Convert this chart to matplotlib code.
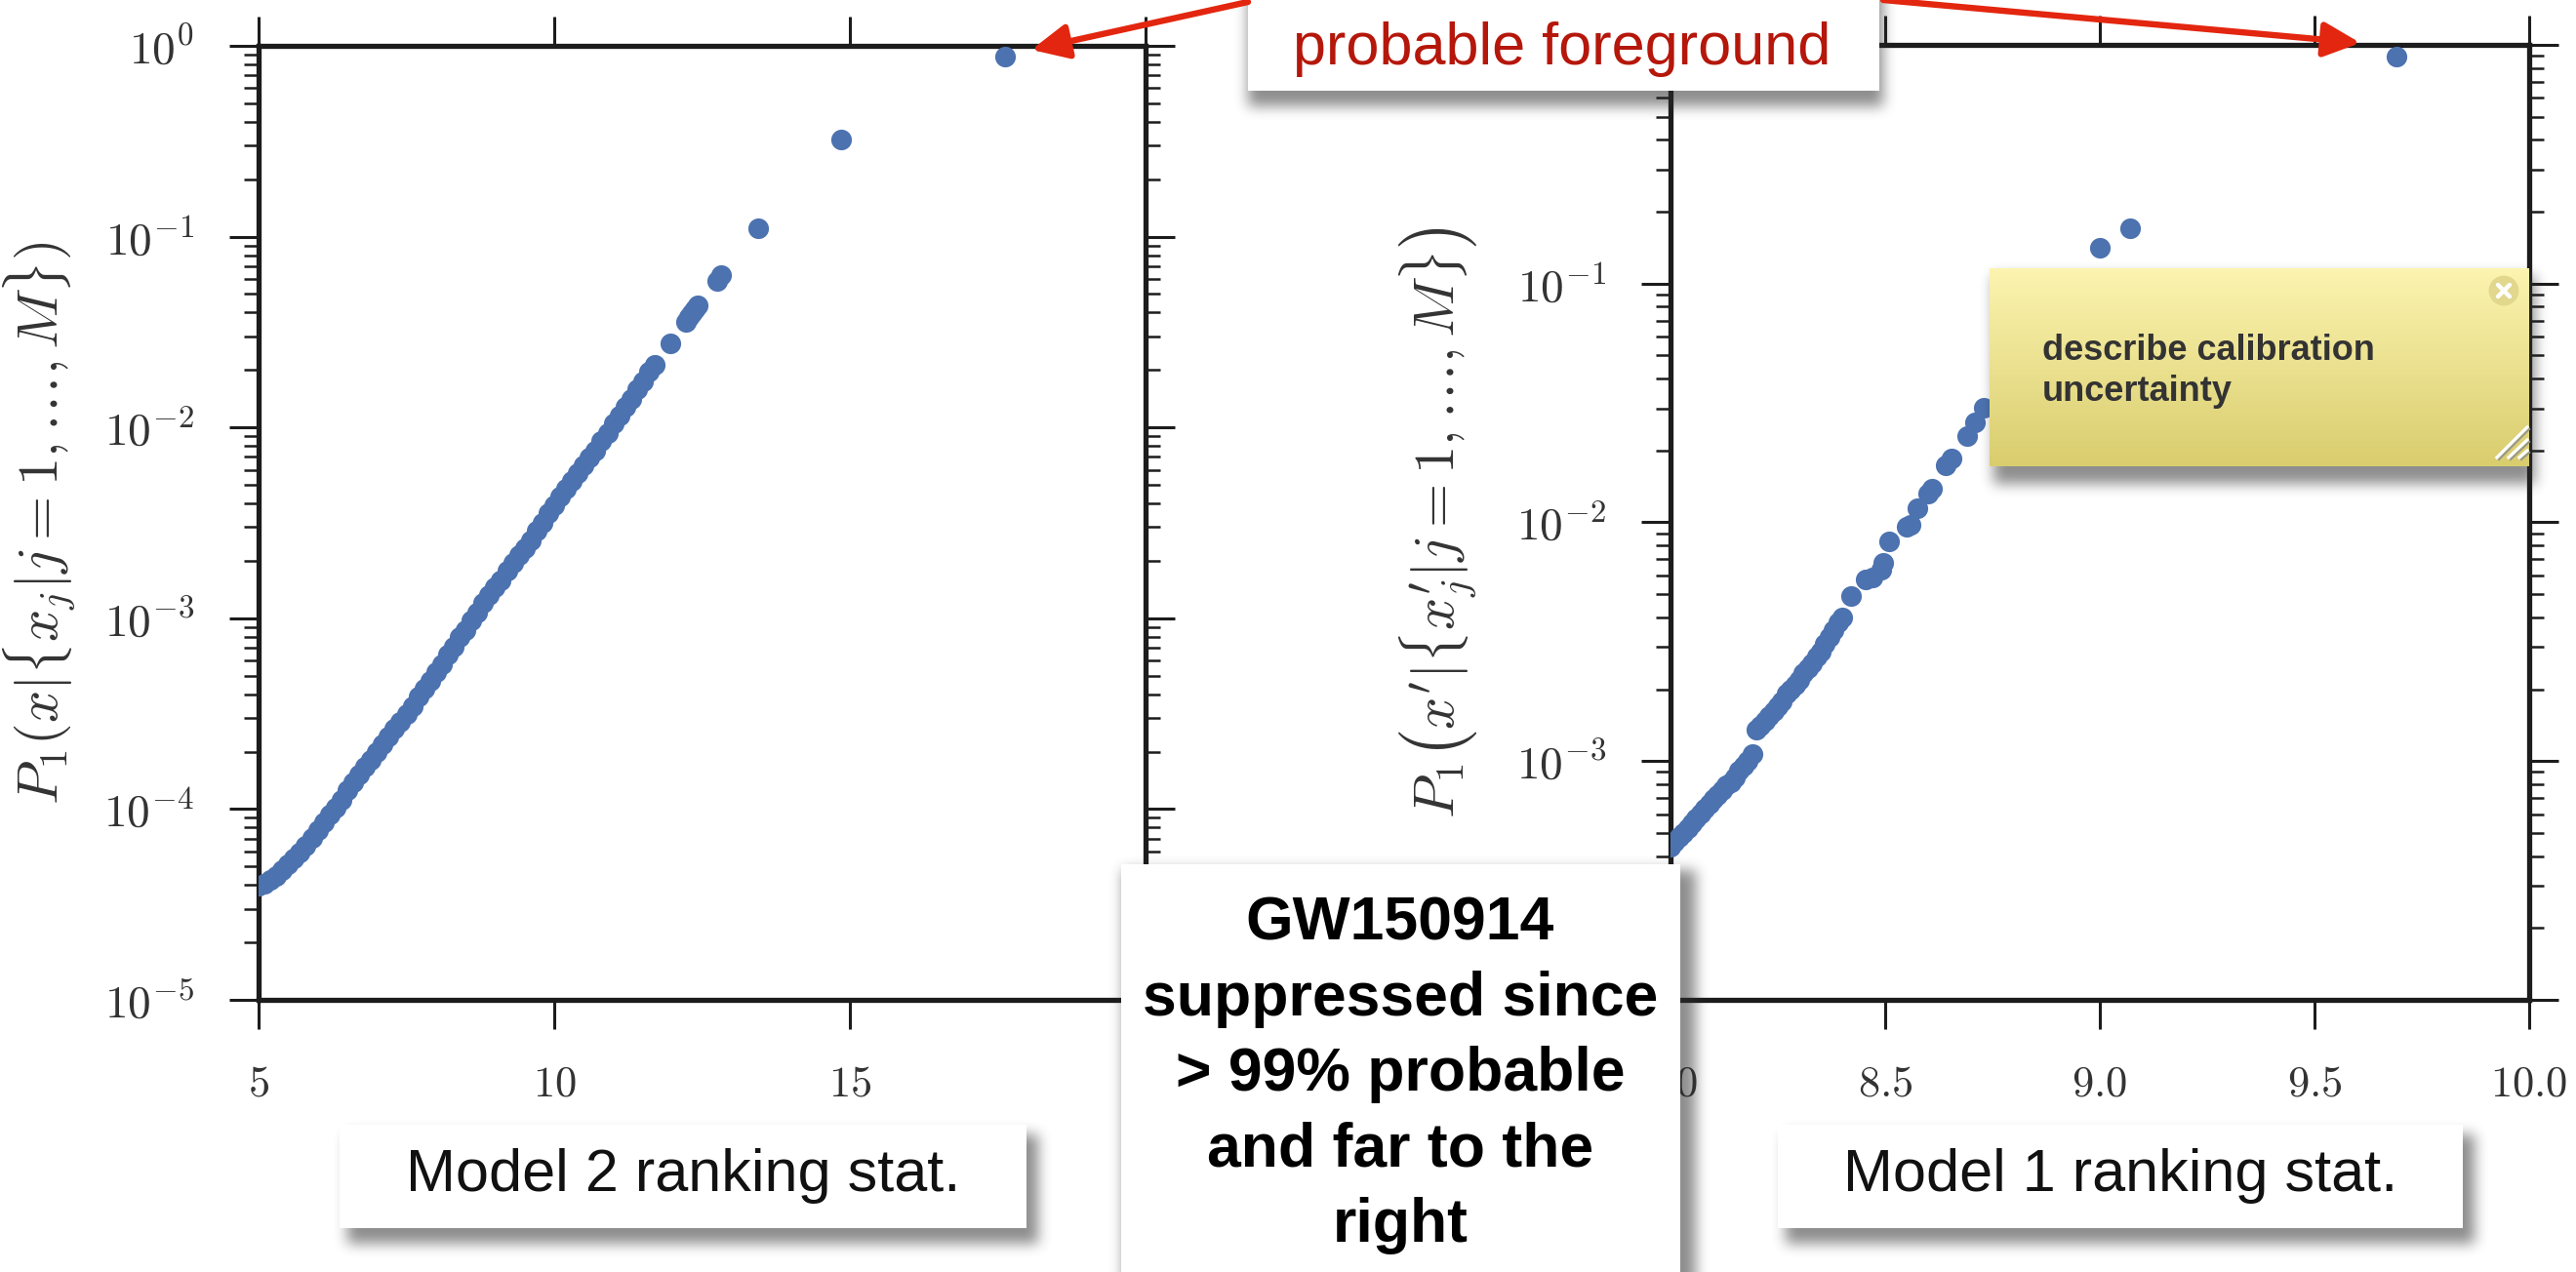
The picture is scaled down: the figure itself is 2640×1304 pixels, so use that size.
import numpy as np
import matplotlib
matplotlib.use("Agg")
import matplotlib.pyplot as plt
from matplotlib.ticker import FixedLocator, FixedFormatter, LogLocator, NullFormatter
from matplotlib.patches import FancyArrowPatch, Circle

# ---------------- data ----------------
# Model 2 ranking statistic (left panel)
m2_x = [5.0, 5.1, 5.2, 5.3, 5.4, 5.5, 5.6, 5.7, 5.8, 5.9,
        6.0, 6.1, 6.2, 6.3, 6.4, 6.5, 6.6, 6.7, 6.8, 6.9,
        7.0, 7.1, 7.2, 7.3, 7.4, 7.5, 7.6, 7.7, 7.8, 7.9,
        8.0, 8.1, 8.2, 8.3, 8.4, 8.5, 8.6, 8.7, 8.8, 8.9,
        9.0, 9.1, 9.2, 9.3, 9.4, 9.5, 9.6, 9.7, 9.8, 9.9,
        10.0, 10.1, 10.2, 10.3, 10.4, 10.5, 10.6, 10.7, 10.8, 10.9,
        11.0, 11.1, 11.2, 11.3, 11.4, 11.5, 11.6, 11.7,
        11.97, 12.23, 12.28, 12.33, 12.38, 12.42, 12.75, 12.82,
        13.45, 14.85, 17.62]
m2_p = [3.98e-5, 4.07e-5, 4.27e-5, 4.47e-5, 4.79e-5, 5.13e-5, 5.50e-5, 5.89e-5, 6.46e-5, 7.08e-5,
        7.76e-5, 8.51e-5, 9.33e-5, 1.02e-4, 1.12e-4, 1.26e-4, 1.38e-4, 1.51e-4, 1.66e-4, 1.82e-4,
        2.00e-4, 2.19e-4, 2.40e-4, 2.63e-4, 2.88e-4, 3.16e-4, 3.47e-4, 3.89e-4, 4.27e-4, 4.68e-4,
        5.25e-4, 5.75e-4, 6.46e-4, 7.08e-4, 7.94e-4, 8.71e-4, 9.77e-4, 1.07e-3, 1.20e-3, 1.32e-3,
        1.45e-3, 1.58e-3, 1.78e-3, 1.95e-3, 2.14e-3, 2.34e-3, 2.57e-3, 2.88e-3, 3.16e-3, 3.55e-3,
        3.89e-3, 4.37e-3, 4.79e-3, 5.25e-3, 5.75e-3, 6.31e-3, 6.92e-3, 7.59e-3, 8.51e-3, 9.33e-3,
        1.05e-2, 1.15e-2, 1.29e-2, 1.41e-2, 1.58e-2, 1.74e-2, 1.95e-2, 2.14e-2,
        2.77e-2, 3.59e-2, 3.80e-2, 3.98e-2, 4.17e-2, 4.37e-2, 5.89e-2, 6.31e-2,
        0.111, 0.324, 0.879]

# Model 1 ranking statistic (right panel)
m1_x = [8.00, 8.01, 8.02, 8.03, 8.04, 8.05, 8.06, 8.07, 8.08, 8.09,
        8.10, 8.11, 8.12, 8.13, 8.14, 8.15, 8.16, 8.17, 8.18, 8.19,
        8.20, 8.21, 8.22, 8.23, 8.24, 8.25, 8.26, 8.27, 8.28, 8.29,
        8.30, 8.31, 8.32, 8.33, 8.34, 8.35, 8.36, 8.37, 8.38, 8.39, 8.40,
        8.42, 8.455, 8.47, 8.49, 8.495, 8.51, 8.55, 8.56, 8.575, 8.60, 8.61,
        8.64, 8.655, 8.69, 8.71, 8.73, 9.00, 9.07, 9.69]
m1_p = [4.37e-4, 4.57e-4, 4.79e-4, 5.01e-4, 5.25e-4, 5.50e-4, 5.75e-4, 6.03e-4, 6.31e-4, 6.61e-4,
        6.92e-4, 7.24e-4, 7.59e-4, 7.94e-4, 8.13e-4, 8.51e-4, 9.12e-4, 9.55e-4, 1.00e-3, 1.07e-3,
        1.35e-3, 1.41e-3, 1.48e-3, 1.55e-3, 1.62e-3, 1.70e-3, 1.78e-3, 1.91e-3, 2.00e-3, 2.09e-3,
        2.19e-3, 2.34e-3, 2.45e-3, 2.57e-3, 2.75e-3, 2.88e-3, 3.09e-3, 3.31e-3, 3.55e-3, 3.80e-3, 3.98e-3,
        4.90e-3, 5.75e-3, 5.89e-3, 6.31e-3, 6.76e-3, 8.32e-3, 9.55e-3, 9.77e-3, 1.15e-2, 1.32e-2, 1.38e-2,
        1.74e-2, 1.86e-2, 2.29e-2, 2.63e-2, 3.02e-2, 0.141, 0.170, 0.891]

# tick labels hidden behind the callout boxes in the reference are left blank
left_xticks = [5, 10, 15, 20]
left_xticklabels = ["$5$", "$10$", "$15$", ""]
right_xticks = [8.0, 8.5, 9.0, 9.5, 10.0]
right_xticklabels = ["$8.0$", "$8.5$", "$9.0$", "$9.5$", "$10.0$"]
left_yticks = [1e-5, 1e-4, 1e-3, 1e-2, 1e-1, 1e0]
left_yticklabels = ["$10^{-5}$", "$10^{-4}$", "$10^{-3}$", "$10^{-2}$", "$10^{-1}$", "$10^{0}$"]
right_yticks = [1e-4, 1e-3, 1e-2, 1e-1, 1e0]
right_yticklabels = ["", "$10^{-3}$", "$10^{-2}$", "$10^{-1}$", ""]

left_ylabel = r"$P_1(x|\{x_j|j=1,\ldots,M\})$"
right_ylabel = r"$P_1\left(x^{\prime}|\{x^{\prime}_j|j=1,\ldots,M\}\right)$"

gw_lines = ["GW150914", "suppressed since", "> 99% probable", "and far to the", "right"]

# ---------------- figure ----------------
W, H = 2640, 1304
DPI = 200
plt.rcParams["font.family"] = ["Liberation Sans", "DejaVu Sans"]
plt.rcParams["mathtext.fontset"] = "cm"

fig = plt.figure(figsize=(W / DPI, H / DPI), dpi=DPI)
fig.patch.set_facecolor("white")

axL = fig.add_axes([265 / W, 1 - 1025 / H, 909 / W, 978 / H])
axR = fig.add_axes([1712 / W, 1 - 1025 / H, 880 / W, 979 / H])

DOT = "#4c72b0"
SPINE = "#1c1c1c"


def style(ax, xlim, ylim, xt, xtl, yt, ytl):
    ax.set_yscale("log")
    ax.set_xlim(*xlim)
    ax.set_ylim(*ylim)
    ax.xaxis.set_major_locator(FixedLocator(xt))
    ax.xaxis.set_major_formatter(FixedFormatter(xtl))
    ax.yaxis.set_major_locator(FixedLocator(yt))
    ax.yaxis.set_major_formatter(FixedFormatter(ytl))
    ax.yaxis.set_minor_locator(LogLocator(base=10, subs=np.arange(2, 10) * 1.0, numticks=30))
    ax.yaxis.set_minor_formatter(NullFormatter())
    for s in ax.spines.values():
        s.set_linewidth(1.9)
        s.set_color(SPINE)
    ax.tick_params(which="both", direction="out", top=True, right=True, color=SPINE)
    ax.tick_params(axis="x", which="major", length=10.8, width=1.1, pad=13,
                   labelsize=16, labelcolor="#333333")
    ax.tick_params(axis="y", which="major", length=10.8, width=1.1, pad=13,
                   labelsize=17, labelcolor="#333333")
    ax.tick_params(axis="y", which="minor", length=5.4, width=0.9)


axL.scatter(m2_x, m2_p, s=58, color=DOT, linewidths=0, zorder=3)
style(axL, (5, 20), (1e-5, 1e0), left_xticks, left_xticklabels, left_yticks, left_yticklabels)
axL.set_ylabel(left_ylabel, fontsize=21, color="#333333")
axL.yaxis.set_label_coords(-0.203, 0.5)

axR.scatter(m1_x, m1_p, s=58, color=DOT, linewidths=0, zorder=3)
style(axR, (8.0, 10.0), (1e-4, 1e0), right_xticks, right_xticklabels, right_yticks, right_yticklabels)
axR.set_ylabel(right_ylabel, fontsize=21, color="#333333")
axR.yaxis.set_label_coords(-0.222, 0.5)

# ---------------- overlay: callout boxes, shadows, sticky note ----------------
shadow = np.zeros((H, W))


def put(mask, x0, y0, x1, y1, val=1.0):
    y0, y1 = max(0, int(y0)), min(H, int(y1))
    x0, x1 = max(0, int(x0)), min(W, int(x1))
    mask[y0:y1, x0:x1] = np.maximum(mask[y0:y1, x0:x1], val)


def box_blur(a, r, axis):
    k = 2 * r + 1
    pad = [(0, 0), (0, 0)]
    pad[axis] = (r + 1, r)
    c = np.cumsum(np.pad(a, pad, mode="edge"), axis=axis)
    if axis == 0:
        return (c[k:] - c[:-k]) / k
    return (c[:, k:] - c[:, :-k]) / k


boxes = {
    "pf": (1279, -10, 1926, 93),
    "m2": (348, 1153, 1052, 1259),
    "m1": (1822, 1153, 2524, 1259),
    "gw": (1149, 886, 1722, 1320),
}
put(shadow, 1279, -10, 1930, 93 + 16, 0.9)
put(shadow, 348 + 8, 1153 + 10, 1052 + 12, 1259 + 16, 0.9)
put(shadow, 1822 + 8, 1153 + 10, 2524 + 12, 1259 + 16, 0.9)
put(shadow, 1149 + 2, 886 + 6, 1722 + 16, 1320, 0.9)
put(shadow, 2039 + 4, 275 + 8, 2598, 478 + 18, 0.9)
for _ in range(3):
    shadow = box_blur(shadow, 6, 0)
    shadow = box_blur(shadow, 6, 1)

rgba = np.zeros((H, W, 4))
rgba[..., :3] = 0.18
rgba[..., 3] = np.clip(shadow, 0, 1) * 0.6

for (x0, y0, x1, y1) in boxes.values():
    y0c, y1c = max(0, y0), min(H, y1)
    rgba[y0c:y1c, x0:x1] = (1, 1, 1, 1)

# sticky note with vertical gradient
nx0, ny0, nx1, ny1 = 2039, 275, 2592, 478
top_c = np.array([0.988, 0.957, 0.690])
bot_c = np.array([0.851, 0.804, 0.431])
t = np.linspace(0, 1, ny1 - ny0)[:, None]
grad = top_c[None, :] * (1 - t) + bot_c[None, :] * t
rgba[ny0:ny1, nx0:nx1, :3] = grad[:, None, :]
rgba[ny0:ny1, nx0:nx1, 3] = 1.0

ov = fig.add_axes([0, 0, 1, 1], zorder=5)
ov.imshow(rgba, extent=(0, W, H, 0), interpolation="nearest", aspect="auto", zorder=0)
ov.set_xlim(0, W)
ov.set_ylim(H, 0)
ov.axis("off")

# red arrows
RED = "#e3260f"
for (xa, ya), (xb, yb) in [((1279, 2), (1057, 51)), ((1930, 0), (2419, 44))]:
    ov.add_patch(FancyArrowPatch((xa, ya), (xb, yb), arrowstyle="-|>,head_length=0.95,head_width=0.45",
                                 mutation_scale=12, lw=2.3, color=RED, shrinkA=0, shrinkB=0, zorder=4))

# close button and resize grip on the note
ov.add_patch(Circle((2566, 298), 14, color="#e1d78d", zorder=4))
ov.plot([2560, 2572], [292, 304], color="white", lw=1.6, zorder=5, solid_capstyle="round")
ov.plot([2560, 2572], [304, 292], color="white", lw=1.6, zorder=5, solid_capstyle="round")
for (xa, ya, xb, yb) in [(2559, 469, 2590, 438), (2571, 469, 2590, 451), (2582, 469, 2590, 462)]:
    ov.plot([xa, xb], [ya, yb], color="white", lw=1.2, zorder=5)
    ov.plot([xa + 2, xb + 2], [ya + 2, yb + 2], color="#9a9a8a", lw=0.8, zorder=5)

# texts
ov.text(1601, 66, "probable foreground", color="#b5170b", fontsize=22, ha="center", va="baseline", zorder=6)
ov.text(700, 1206, "Model 2 ranking stat.", color="#111111", fontsize=22, ha="center", va="center", zorder=6)
ov.text(2173, 1206, "Model 1 ranking stat.", color="#111111", fontsize=22, ha="center", va="center", zorder=6)
for i, line in enumerate(gw_lines):
    ov.text(1435, 963 + 77.5 * i, line, color="black", fontsize=22.5, fontweight="bold",
            ha="center", va="baseline", zorder=6)
ov.text(2093, 342, "describe calibration\nuncertainty", color="#333333", fontsize=13,
        fontweight="bold", ha="left", va="top", linespacing=1.25, zorder=6)

fig.savefig("out.png", dpi=DPI)
